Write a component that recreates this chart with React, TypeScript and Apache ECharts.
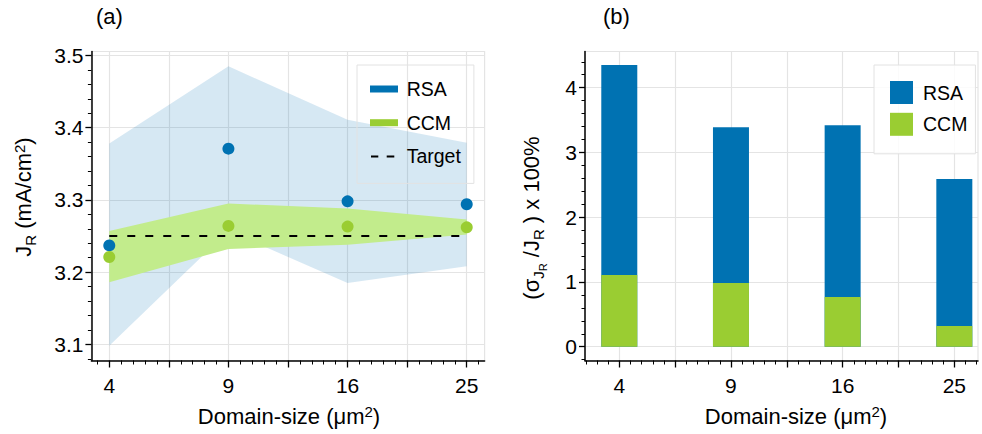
import React, { useEffect, useRef } from 'react';
import * as echarts from 'echarts';

// ---------------- data ----------------
const categories = ['4', '9', '16', '25'];
const xPositions = [0, 1, 2, 3];
const xMajorTicks = [0, 0.5, 1, 1.5, 2, 2.5, 3];

const rsaMean = [3.237, 3.371, 3.298, 3.294];
const ccmMean = [3.221, 3.264, 3.263, 3.262];
const rsaLower = [3.098, 3.257, 3.185, 3.208];
const rsaUpper = [3.378, 3.485, 3.411, 3.379];
const ccmLower = [3.186, 3.232, 3.238, 3.252];
const ccmUpper = [3.257, 3.295, 3.288, 3.273];
const targetValue = 3.25;

const rsaVariation = [4.35, 3.39, 3.42, 2.59];
const ccmVariation = [1.107, 0.983, 0.767, 0.319];

const leftYTicks = [3.1, 3.2, 3.3, 3.4, 3.5];
const rightYTicks = [0, 1, 2, 3, 4];

// ---------------- style ----------------
const FONT = "'Liberation Sans', Arial, Helvetica, sans-serif";
const BLUE = '#0072b2';
const GREEN = '#9acd32';
const BLUE_BAND = 'rgba(0,114,178,0.16)';
const GREEN_BAND = '#c2ec8c';
const GRID_COLOR = '#e4e4e4';
const TICK_FONT = 21;

// token centre = height / 2 (verticalAlign top)
const rich = {
  n: { fontSize: 22, height: 26, verticalAlign: 'top', fontFamily: FONT, fill: '#000' },
  sup: { fontSize: 15, height: 16.8, verticalAlign: 'top', fontFamily: FONT, fill: '#000' },
  sub: { fontSize: 15, height: 39.8, verticalAlign: 'top', fontFamily: FONT, fill: '#000' },
  ss: { fontSize: 11, height: 49.6, verticalAlign: 'top', fontFamily: FONT, fill: '#000' },
};

function xAxisCfg(gridIndex: number, min: number, max: number) {
  return {
    type: 'value',
    gridIndex,
    min,
    max,
    splitNumber: 7,
    axisLine: { show: true, onZero: false, lineStyle: { color: '#000', width: 1.5 } },
    axisTick: { show: true, customValues: xMajorTicks, length: 7, lineStyle: { color: '#000', width: 1.3 } },
    minorTick: { show: true, splitNumber: 5, length: 4, lineStyle: { color: '#000', width: 1 } },
    axisLabel: {
      customValues: xPositions,
      formatter: (v: number) => categories[Math.round(v)] ?? '',
      fontSize: TICK_FONT,
      color: '#000',
      fontFamily: FONT,
      margin: 14,
    },
    splitLine: { show: true, lineStyle: { color: GRID_COLOR, width: 1.2 } },
    minorSplitLine: { show: false },
  };
}

function yAxisCfg(gridIndex: number, min: number, max: number, ticks: number[], digits: number) {
  return {
    type: 'value',
    gridIndex,
    min,
    max,
    splitNumber: 5,
    axisLine: { show: true, onZero: false, lineStyle: { color: '#000', width: 1.5 } },
    axisTick: { show: true, customValues: ticks, length: 6, lineStyle: { color: '#000', width: 1.3 } },
    minorTick: { show: true, splitNumber: 5, length: 3.5, lineStyle: { color: '#000', width: 1 } },
    axisLabel: {
      customValues: ticks,
      formatter: (v: number) => v.toFixed(digits),
      fontSize: TICK_FONT,
      color: '#000',
      fontFamily: FONT,
      margin: 8,
    },
    splitLine: { show: true, lineStyle: { color: GRID_COLOR, width: 1.2 } },
  };
}

function bandSeries(lower: number[], upper: number[], fill: string, z: number) {
  return {
    type: 'custom',
    xAxisIndex: 0,
    yAxisIndex: 0,
    silent: true,
    z,
    data: xPositions.map((x, i) => [x, lower[i], upper[i]]),
    encode: { x: 0, y: [1, 2] },
    renderItem: (params: any, api: any) => {
      if (params.dataIndex !== 0) return null;
      const top = xPositions.map((x, i) => api.coord([x, upper[i]]));
      const bottom = xPositions.map((x, i) => api.coord([x, lower[i]])).reverse();
      return {
        type: 'polygon',
        shape: { points: top.concat(bottom) },
        style: { fill },
      };
    },
  };
}

const dashIcon =
  'path://M0,0h0.01v0.01h-0.01z M27.99,6.99h0.01v0.01h-0.01z M1,2.5h7.3v2h-7.3z M16.7,2.5h7.6v2h-7.6z';

export default function App() {
  const ref = useRef<HTMLDivElement>(null);

  useEffect(() => {
    document.body.style.margin = '0';
    if (!ref.current) return;
    const chart = echarts.init(ref.current, null, { renderer: 'svg' });

    const pts = (ys: number[]) => ys.map((y, i) => [xPositions[i], y]);

    const option: any = {
      animation: false,
      backgroundColor: '#fff',
      textStyle: { fontFamily: FONT },
      grid: [
        { left: 91.4, top: 51.5, width: 393.2, height: 309, show: true, borderColor: GRID_COLOR, borderWidth: 1.2, outerBoundsMode: 'none', containLabel: false },
        { left: 585, top: 51.5, width: 393, height: 309, show: true, borderColor: GRID_COLOR, borderWidth: 1.2, outerBoundsMode: 'none', containLabel: false },
      ],
      xAxis: [xAxisCfg(0, -0.15, 3.15), xAxisCfg(1, -0.307, 3.212)],
      yAxis: [yAxisCfg(0, 3.0776, 3.5055, leftYTicks, 1), yAxisCfg(1, -0.213, 4.559, rightYTicks, 0)],
      legend: [
        {
          orient: 'vertical',
          left: 357,
          top: 65,
          padding: [14, 13, 17, 13],
          itemGap: 13.7,
          itemWidth: 28,
          itemHeight: 7,
          borderColor: '#e2e2e2',
          borderWidth: 1,
          selectedMode: false,
          textStyle: { fontSize: 19.5, color: '#000', fontFamily: FONT, lineHeight: 20, padding: [0, 0, 0, 3.7] },
          data: [
            { name: 'RSA', icon: 'rect', itemStyle: { color: BLUE, borderWidth: 0 } },
            { name: 'CCM', icon: 'rect', itemStyle: { color: GREEN, borderWidth: 0 } },
            { name: 'Target', icon: dashIcon, itemStyle: { color: '#000', borderWidth: 0 } },
          ],
        },
        {
          orient: 'vertical',
          left: 874,
          top: 65,
          padding: [16, 8, 18, 16],
          itemGap: 8.8,
          itemWidth: 23,
          itemHeight: 23,
          borderColor: '#e2e2e2',
          borderWidth: 1,
          backgroundColor: 'rgba(255,255,255,0.85)',
          selectedMode: false,
          textStyle: { fontSize: 19.5, color: '#000', fontFamily: FONT, lineHeight: 20, padding: [0, 0, 0, 5] },
          data: [
            { name: 'RSA', icon: 'rect', itemStyle: { color: BLUE, borderWidth: 0 } },
            { name: 'CCM', icon: 'rect', itemStyle: { color: GREEN, borderWidth: 0 } },
          ],
        },
      ],
      series: [
        bandSeries(rsaLower, rsaUpper, BLUE_BAND, 1),
        bandSeries(ccmLower, ccmUpper, GREEN_BAND, 2),
        {
          name: 'Target', type: 'line', xAxisIndex: 0, yAxisIndex: 0,
          data: [[xPositions[0], targetValue], [xPositions[xPositions.length - 1], targetValue]],
          symbol: 'none', color: '#000',
          lineStyle: { color: '#000', width: 1.8, type: [8, 10] }, z: 3,
        },
        {
          name: 'RSA', type: 'scatter', xAxisIndex: 0, yAxisIndex: 0, data: pts(rsaMean),
          symbolSize: 12, itemStyle: { color: BLUE, opacity: 1 }, z: 4,
        },
        {
          name: 'CCM', type: 'scatter', xAxisIndex: 0, yAxisIndex: 0, data: pts(ccmMean),
          symbolSize: 12, itemStyle: { color: GREEN, opacity: 1 }, z: 5,
        },
        {
          name: 'RSA', type: 'bar', xAxisIndex: 1, yAxisIndex: 1, data: pts(rsaVariation),
          barWidth: 36, barGap: '-100%', itemStyle: { color: BLUE }, z: 2,
        },
        {
          name: 'CCM', type: 'bar', xAxisIndex: 1, yAxisIndex: 1, data: pts(ccmVariation),
          barWidth: 36, barGap: '-100%', itemStyle: { color: GREEN }, z: 3,
        },
      ],
      graphic: [
        { type: 'text', x: 96, y: 16, style: { text: '(a)', fontSize: 22, fontFamily: FONT, fill: '#000', align: 'left', verticalAlign: 'middle' } },
        { type: 'text', x: 603, y: 16, style: { text: '(b)', fontSize: 22, fontFamily: FONT, fill: '#000', align: 'left', verticalAlign: 'middle' } },
        {
          type: 'text', x: 289, y: 416,
          style: { text: '{n|Domain-size (μm}{sup|2}{n|)}', rich, align: 'center', verticalAlign: 'middle', fontFamily: FONT, fill: '#000' },
        },
        {
          type: 'text', x: 796, y: 416,
          style: { text: '{n|Domain-size (μm}{sup|2}{n|)}', rich, align: 'center', verticalAlign: 'middle', fontFamily: FONT, fill: '#000' },
        },
        {
          type: 'text', x: 30.5, y: 197, rotation: Math.PI / 2,
          style: { text: '{n|J}{sub|R}{n| (mA/cm}{sup|2}{n|)}', rich, align: 'center', verticalAlign: 'middle', fontFamily: FONT, fill: '#000' },
        },
        {
          type: 'text', x: 543, y: 218, rotation: Math.PI / 2,
          style: { text: '{n|(σ}{sub|J}{ss|R}{n| /J}{sub|R}{n| ) x 100%}', rich, align: 'center', verticalAlign: 'middle', fontFamily: FONT, fill: '#000' },
        },
      ],
    };

    chart.setOption(option);
    return () => chart.dispose();
  }, []);

  return (
    <div
      ref={ref}
      style={{ position: 'fixed', left: 0, top: 0, width: 982, height: 434, background: '#fff' }}
    />
  );
}
